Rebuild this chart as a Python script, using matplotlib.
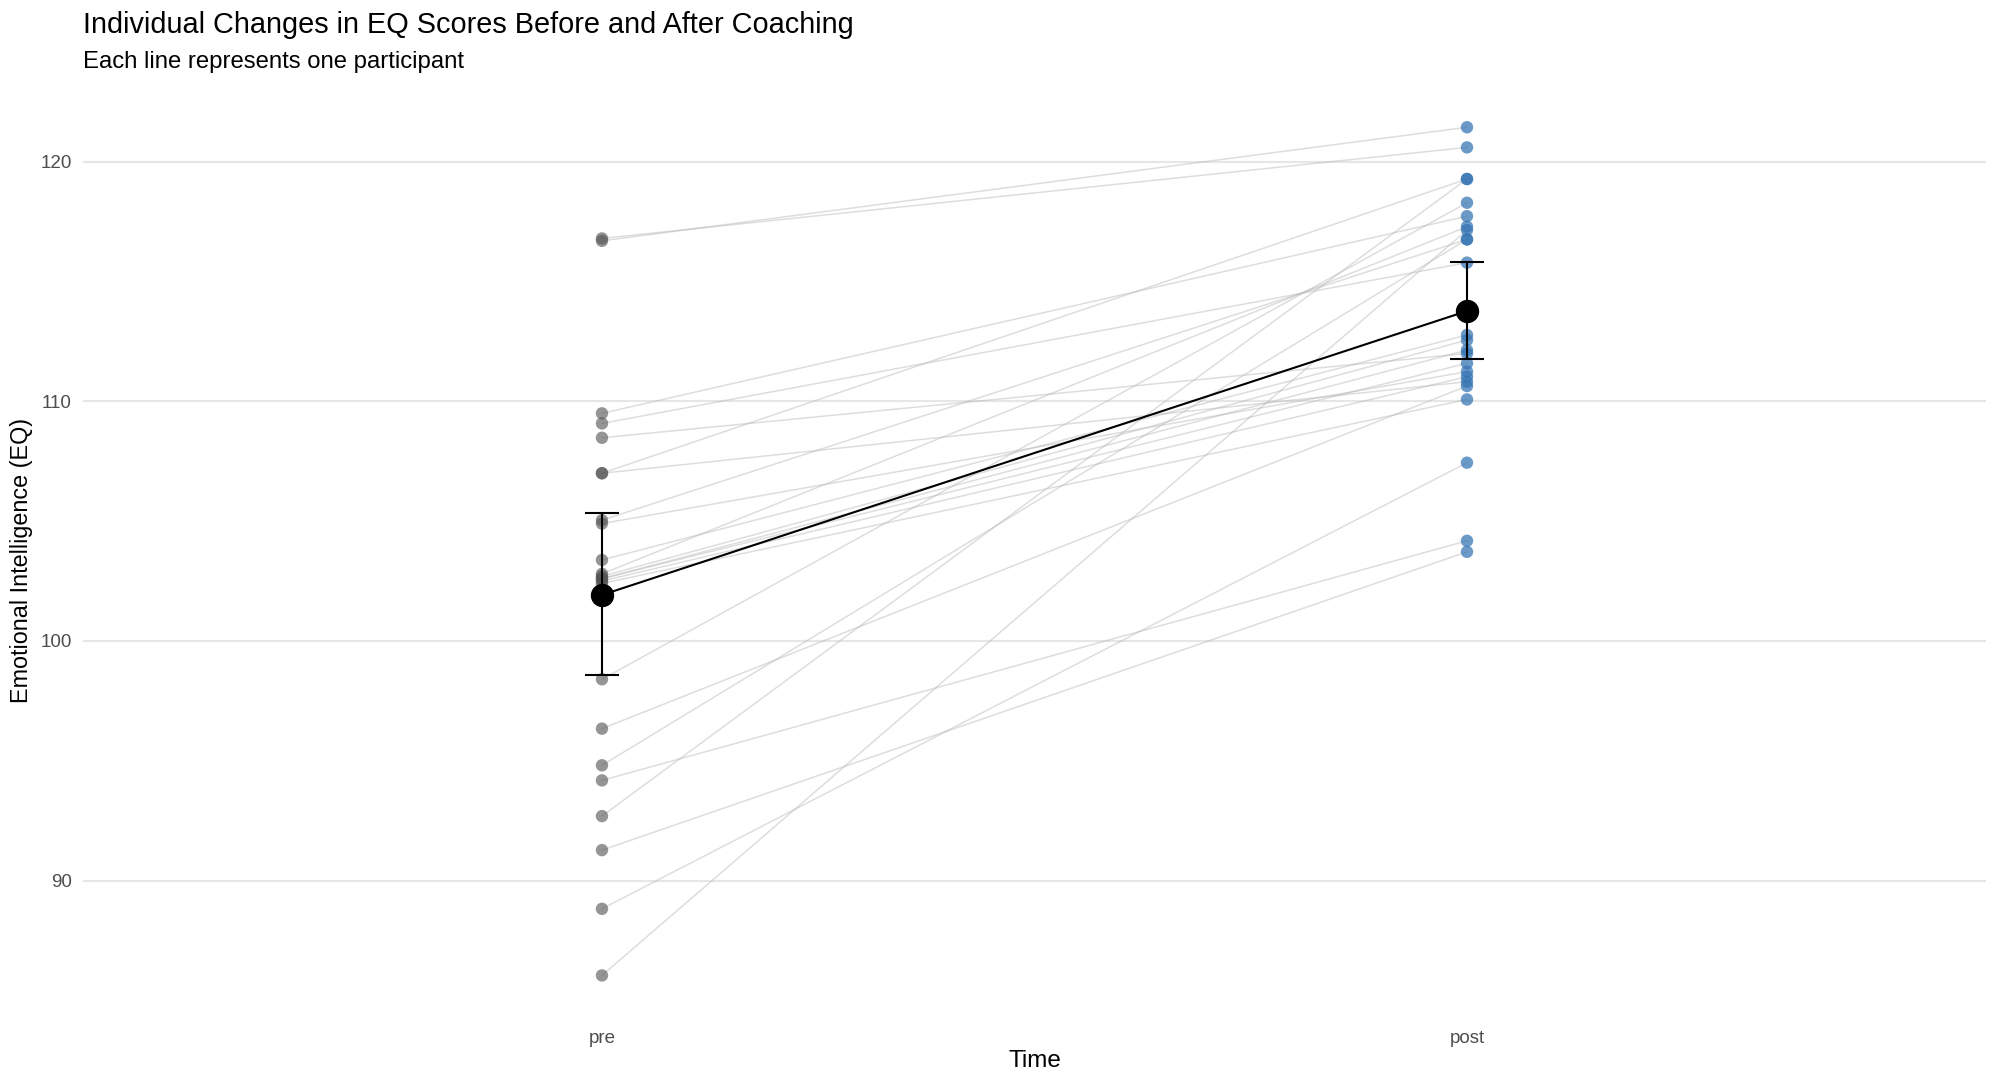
import numpy as np
import matplotlib
matplotlib.use("Agg")
import matplotlib.pyplot as plt

plt.rcParams['font.family'] = ['Liberation Sans', 'DejaVu Sans']

# data (one entry per participant)
time_labels = ["pre", "post"]
pre = [116.70, 116.80, 109.50, 109.08, 108.48, 107.00, 107.00, 105.04, 104.90,
       103.38, 98.40, 96.34, 94.81, 94.18, 92.69, 91.27, 88.82, 86.04,
       102.80, 102.70, 102.60, 102.60, 102.50, 102.40]
post = [121.44, 120.60, 117.73, 115.79, 112.00, 119.28, 110.82, 116.76, 111.24,
        112.77, 118.29, 110.64, 116.76, 104.18, 119.28, 103.72, 107.44, 117.15,
        117.29, 112.56, 112.14, 111.59, 111.03, 110.08]

# group summaries (mean with 95% CI)
means = [101.92, 113.77]
ci_low = [98.59, 111.75]
ci_high = [105.33, 115.83]

fig = plt.figure(figsize=(19.99, 10.88), dpi=100)
ax = fig.add_axes([0.0415, 0.0645, 0.952, 0.8575])

x = np.arange(1, len(time_labels) + 1)

# participant lines
for a, b in zip(pre, post):
    ax.plot(x, [a, b], color='#b5b5b5', alpha=0.45, lw=1.1, zorder=2)

ax.scatter(np.full(len(pre), x[0]), pre, s=80, color='#555555', alpha=0.62,
           edgecolors='none', zorder=3)
ax.scatter(np.full(len(post), x[1]), post, s=80, color='#3474B3', alpha=0.72,
           edgecolors='none', zorder=3)

# mean and error bars
means = np.array(means)
yerr = [means - np.array(ci_low), np.array(ci_high) - means]
ax.errorbar(x, means, yerr=yerr, fmt='none', ecolor='black', elinewidth=1.5,
            capsize=12, capthick=1.5, zorder=4)
ax.plot(x, means, color='black', lw=1.5, zorder=5)
ax.scatter(x, means, s=250, color='black', zorder=6)

ax.set_xlim(0.4, 2.6)
lo, hi = min(pre), max(post)
pad = (hi - lo) * 0.05
ax.set_ylim(lo - pad, hi + pad)
ax.set_xticks(x)
ax.set_xticklabels(time_labels)
ax.set_yticks([90, 100, 110, 120])

for s in ax.spines.values():
    s.set_visible(False)
ax.tick_params(axis='both', length=0, labelsize=13.5, labelcolor='#4D4D4D')
ax.tick_params(axis='y', pad=8)
ax.tick_params(axis='x', pad=9)
ax.grid(axis='y', color='#E6E6E6', lw=1.5)
ax.set_axisbelow(True)

ax.set_xlabel("Time", fontsize=17.5)
ax.set_ylabel("Emotional Intelligence (EQ)", fontsize=16.8)
ax.xaxis.set_label_coords(0.5, -0.034)
ax.yaxis.set_label_coords(-0.026, 0.49)

fig.text(0.0415, 0.977, "Individual Changes in EQ Scores Before and After Coaching",
         fontsize=20.8, va='center', ha='left')
fig.text(0.0415, 0.943, "Each line represents one participant",
         fontsize=17.2, va='center', ha='left')

fig.savefig("out.png", dpi=100)
